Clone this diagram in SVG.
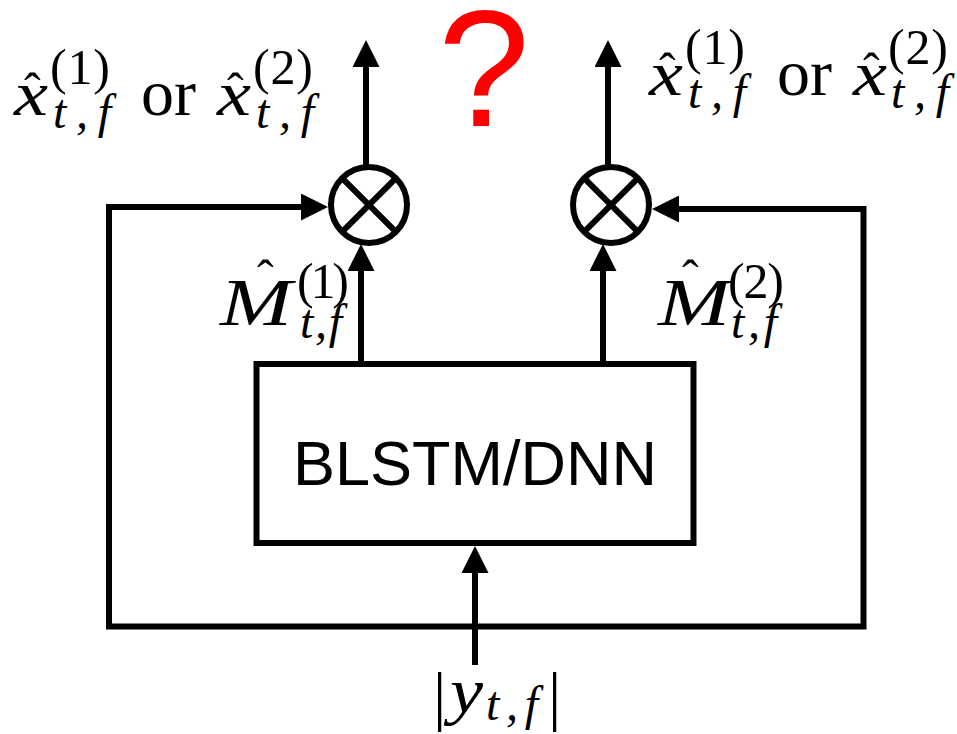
<svg xmlns="http://www.w3.org/2000/svg" width="957" height="734" viewBox="0 0 957 734">
<style>
.ln{fill:none;stroke:#000;stroke-width:6;stroke-linejoin:miter;stroke-miterlimit:10}
.arr{marker-end:url(#ah)}
.m{font-family:"Liberation Serif","Times New Roman",serif;fill:#000}
.i{font-style:italic}
.main{font-size:66px}
.var{font-size:63px}
.sup{font-size:50px}
.sub{font-size:48px}
.hat{font-size:50px}
.sans{font-family:"Liberation Sans",Arial,sans-serif}
</style>
<defs>
<marker id="ah" viewBox="0 0 27 27" refX="0" refY="13.5" markerWidth="27" markerHeight="27" markerUnits="userSpaceOnUse" orient="auto">
<path d="M0,0 L27,13.5 L0,27 Z" fill="#000"/>
</marker>
</defs>
<rect width="957" height="734" fill="#fff"/>
<g id="connectors">
<path class="ln arr" d="M366,167 L366,67"/>
<path class="ln arr" d="M608,167 L608,67"/>
<path class="ln arr" d="M361,364 L361,271"/>
<path class="ln arr" d="M603,364 L603,271"/>
<path class="ln arr" d="M475,665 L475,573"/>
<path class="ln arr" d="M478,626.5 L109,626.5 L109,207 L301,207"/>
<path class="ln arr" d="M472,626.5 L863.5,626.5 L863.5,209 L679,209"/>
</g>
<g id="mult-left">
<circle cx="369" cy="205" r="38" class="ln"/>
<path class="ln" d="M342.1,178.1 L395.9,231.9 M395.9,178.1 L342.1,231.9"/>
</g>
<g id="mult-right">
<circle cx="611" cy="205" r="38" class="ln"/>
<path class="ln" d="M584.1,178.1 L637.9,231.9 M637.9,178.1 L584.1,231.9"/>
</g>
<g id="blstm">
<rect x="256.5" y="364" width="437" height="179" class="ln"/>
<text x="475" y="485" text-anchor="middle" class="sans" font-size="63">BLSTM/DNN</text>
</g>
<g id="question">
<text x="484" y="126" text-anchor="middle" class="sans" font-size="165" fill="#ff0000">?</text>
</g>
<g id="label-out-left">
<text class="m i var" x="14" y="115" textLength="34" lengthAdjust="spacingAndGlyphs">x</text>
<text class="m hat" x="24" y="108">ˆ</text>
<text class="m sup" x="50" y="84" textLength="60">(1)</text>
<text class="m i sub" x="53" y="128" textLength="58">t,f</text>
<text class="m main" x="141" y="115">or</text>
<text class="m i var" x="217" y="115" textLength="34" lengthAdjust="spacingAndGlyphs">x</text>
<text class="m hat" x="227" y="108">ˆ</text>
<text class="m sup" x="253" y="84" textLength="60">(2)</text>
<text class="m i sub" x="256" y="128" textLength="58">t,f</text>
</g>
<g id="label-out-right">
<text class="m i var" x="649" y="95" textLength="34" lengthAdjust="spacingAndGlyphs">x</text>
<text class="m hat" x="659" y="88">ˆ</text>
<text class="m sup" x="685" y="64" textLength="60">(1)</text>
<text class="m i sub" x="688" y="108" textLength="58">t,f</text>
<text class="m main" x="777" y="95">or</text>
<text class="m i var" x="853" y="95" textLength="34" lengthAdjust="spacingAndGlyphs">x</text>
<text class="m hat" x="863" y="88">ˆ</text>
<text class="m sup" x="888" y="64" textLength="60">(2)</text>
<text class="m i sub" x="891" y="108" textLength="58">t,f</text>
</g>
<g id="label-mask-1">
<text class="m i" font-size="68" x="220" y="325" textLength="72" lengthAdjust="spacingAndGlyphs">M</text>
<text class="m hat" x="257" y="295">ˆ</text>
<text class="m sup" x="297" y="298" textLength="52">(1)</text>
<text class="m i sub" x="300" y="338" textLength="42">t,f</text>
</g>
<g id="label-mask-2">
<text class="m i" font-size="68" x="658" y="325" textLength="72" lengthAdjust="spacingAndGlyphs">M</text>
<text class="m hat" x="682" y="295">ˆ</text>
<text class="m sup" x="728" y="298" textLength="56">(2)</text>
<text class="m i sub" x="731" y="338" textLength="46">t,f</text>
</g>
<g id="label-input">
<text class="m" x="433" y="718" font-size="66">|</text>
<text class="m i var" x="450" y="712" textLength="33" lengthAdjust="spacingAndGlyphs">y</text>
<text class="m i sub" x="486" y="720" textLength="52">t,f</text>
<text class="m" x="548" y="718" font-size="66">|</text>
</g>
</svg>
